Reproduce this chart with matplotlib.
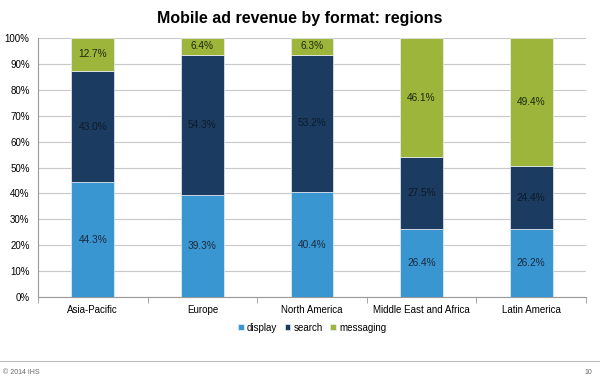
import numpy as np
import matplotlib
matplotlib.use("Agg")
import matplotlib.pyplot as plt
from matplotlib.ticker import FuncFormatter

regions = ["Asia-Pacific", "Europe", "North America", "Middle East and Africa", "Latin America"]
display = [44.3, 39.3, 40.4, 26.4, 26.2]
search = [43.0, 54.3, 53.2, 27.5, 24.4]
messaging = [12.7, 6.4, 6.3, 46.1, 49.4]

c_display = "#3a96d0"
c_search = "#1b3b60"
c_msg = "#9db53a"

plt.rcParams['font.family'] = ['Liberation Sans', 'DejaVu Sans']

fig = plt.figure(figsize=(6, 3.78), dpi=100)
ax = fig.add_axes([38 / 600, 1 - 297 / 378, 548 / 600, 259 / 378])

x = np.arange(len(regions))
w = 0.39
disp = np.array(display)
srch = np.array(search)
msg = np.array(messaging)

ax.bar(x, disp, w, color=c_display, label="display", zorder=3, edgecolor="#e8f0f8", linewidth=0.5)
ax.bar(x, srch, w, bottom=disp, color=c_search, label="search", zorder=3, edgecolor="#e8f0f8", linewidth=0.5)
ax.bar(x, msg, w, bottom=disp + srch, color=c_msg, label="messaging", zorder=3, edgecolor="#e8f0f8", linewidth=0.5)

for i in range(len(regions)):
    ax.text(x[i], disp[i] / 2, f"{disp[i]:.1f}%", ha="center", va="center", fontsize=7.3, color="#1a2a40", zorder=4)
    ax.text(x[i], disp[i] + srch[i] / 2, f"{srch[i]:.1f}%", ha="center", va="center", fontsize=7.3, color="#0d1a2a", zorder=4)
    ax.text(x[i], 100 - msg[i] / 2, f"{msg[i]:.1f}%", ha="center", va="center", fontsize=7.3, color="#1a2a10", zorder=4)

ax.set_xlim(-0.5, len(regions) - 0.5)
ax.set_ylim(0, 100)
ax.set_yticks(np.arange(0, 101, 10))
ax.yaxis.set_major_formatter(FuncFormatter(lambda v, p: f"{v:.0f}%"))
ax.grid(axis="y", color="#c8c8c8", linewidth=0.8, zorder=0)
ax.set_xticks(x)
ax.set_xticklabels(regions, fontsize=7)
ax.set_xticks(np.arange(-0.5, len(regions), 1), minor=True)
ax.tick_params(axis="x", which="major", length=0, pad=6)
ax.tick_params(axis="x", which="minor", length=4, color="#999999")
ax.tick_params(axis="y", labelsize=7, length=0, pad=6)
for s in ["top", "right", "left"]:
    ax.spines[s].set_visible(False)
ax.spines["bottom"].set_color("#999999")
ax.plot([-0.5, -0.5], [0, 100], color="#999999", linewidth=0.8, clip_on=False, zorder=2)

ax.legend(loc="upper center", bbox_to_anchor=(0.5, -0.065), ncol=3, frameon=False,
          fontsize=7, handlelength=0.6, handleheight=0.6, handletextpad=0.3, columnspacing=0.8)

fig.text(0.5, 1 - 18 / 378, "Mobile ad revenue by format: regions", ha="center", va="center",
         fontsize=11.5, fontweight="bold")
fig.add_artist(plt.Line2D([0, 1], [1 - 361 / 378] * 2, color="#bbbbbb", linewidth=0.8))
fig.text(3 / 600, 1 - 372 / 378, "© 2014 IHS", fontsize=5, color="#666666", va="center")
fig.text(592 / 600, 1 - 372 / 378, "10", fontsize=5, color="#666666", va="center", ha="right")

fig.savefig("out.png", dpi=100)
